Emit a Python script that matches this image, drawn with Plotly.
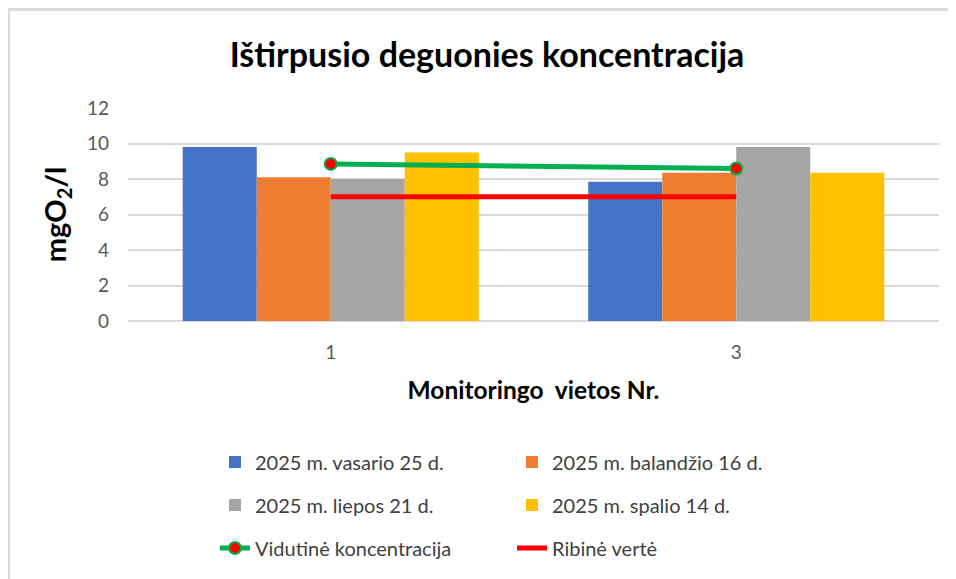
import plotly.graph_objects as go

sites = ["1", "3"]
series_names = ["2025 m. vasario 25 d.", "2025 m. balandžio 16 d.",
                "2025 m. liepos 21 d.", "2025 m. spalio 14 d."]
vasario = [9.8, 7.85]
balandzio = [8.1, 8.35]
liepos = [8.0, 9.8]
spalio = [9.5, 8.35]
vidutine = [8.85, 8.59]
ribine = [7, 7]
y_ticks = [0, 2, 4, 6, 8, 10, 12]

colors = ["#4472C4", "#ED7D31", "#A5A5A5", "#FFC000"]
FONT = "Lato"

OFF = 8  # page body margin
W, H = 956 - OFF, 579 - OFF
L, T = 128 - OFF, 108 - OFF
R = W - (939 - OFF)
B = H - (321 - OFF)
pw, ph = W - L - R, H - T - B

def px(x):  # screen px -> paper
    return (x - OFF - L) / pw

def py(y):
    return (H - B - (y - OFF)) / ph

fig = go.Figure()
legs = ["legend", "legend", "legend2", "legend2"]
for name, vals, c, lg in zip(series_names, [vasario, balandzio, liepos, spalio], colors, legs):
    fig.add_trace(go.Bar(x=sites, y=vals, name=name, legend=lg,
                         marker=dict(color=c, line=dict(width=0))))

fig.add_trace(go.Scatter(x=sites, y=vidutine, name="Vidutinė koncentracija", mode="lines+markers",
                         legend="legend3",
                         line=dict(color="#00B050", width=5),
                         marker=dict(color="#FF0000", size=12, line=dict(color="#00B050", width=2))))
fig.add_trace(go.Scatter(x=sites, y=ribine, name="Ribinė vertė", mode="lines", legend="legend3",
                         line=dict(color="#FF0000", width=5)))

def leg(yc):
    return dict(orientation="h", x=px(215), xanchor="left", y=py(yc), yanchor="middle",
                entrywidth=252, entrywidthmode="pixels", itemwidth=30,
                font=dict(family=FONT, size=20, color="#404040"), traceorder="normal",
                bgcolor="rgba(0,0,0,0)")

fig.update_layout(
    width=W, height=H,
    margin=dict(l=L, r=R, t=T, b=B, autoexpand=False),
    paper_bgcolor="white", plot_bgcolor="white",
    barmode="group", bargap=0.27, bargroupgap=0,
    font=dict(family=FONT, color="#595959", size=18),
    title=dict(text="<b>Ištirpusio deguonies koncentracija</b>",
               font=dict(family=FONT, size=34, color="black"),
               x=(487 - OFF) / W, xref="container", xanchor="center",
               y=1 - (55 - OFF) / H, yref="container", yanchor="middle"),
    xaxis=dict(type="category", showgrid=False, showline=False, zeroline=False,
               tickfont=dict(size=19, color="#595959"), ticklabelstandoff=18,
               title=dict(text="<b>Monitoringo  vietos Nr.</b>",
                          font=dict(size=24.5, color="black"), standoff=19)),
    yaxis=dict(range=[0, 12], tickvals=y_ticks, showgrid=True, gridcolor="#D9D9D9", gridwidth=1.5,
               zeroline=True, zerolinecolor="#D9D9D9", zerolinewidth=1.5, showline=False,
               tickfont=dict(size=19, color="#595959"), ticklabelstandoff=18,
               title=dict(text="<b>mgO<sub>2</sub>/l</b>", font=dict(size=29, color="black"), standoff=11)),
    legend=leg(462),
    legend2=leg(505),
    legend3=leg(548),
    shapes=[
        dict(type="line", xref="paper", yref="paper", x0=px(8.5), x1=px(954), y0=py(9.5), y1=py(9.5),
             line=dict(color="#D9D9D9", width=3)),
        dict(type="line", xref="paper", yref="paper", x0=px(8.5), x1=px(8.5), y0=py(9.5), y1=py(600),
             line=dict(color="#D9D9D9", width=3)),
    ],
)

fig.write_html("out.html")
